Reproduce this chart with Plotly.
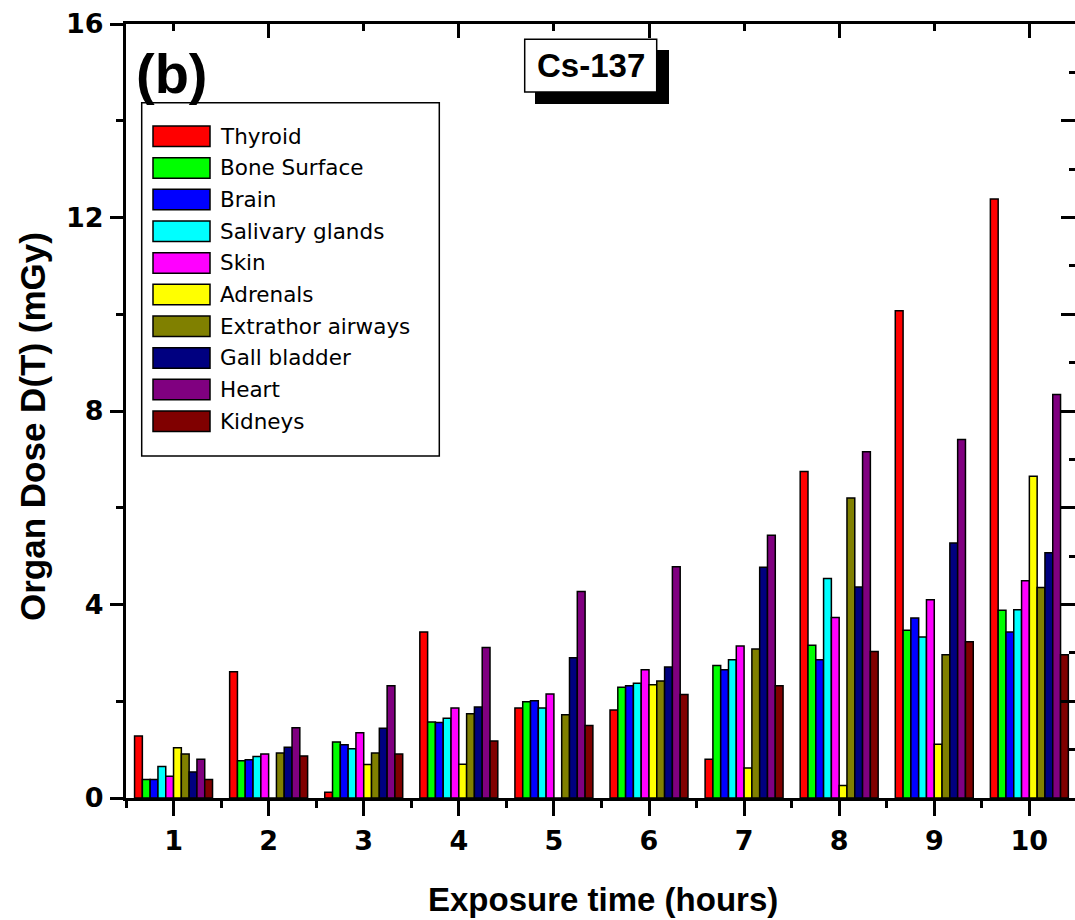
import plotly.graph_objects as go

# ---------------- data ----------------
hours = [1, 2, 3, 4, 5, 6, 7, 8, 9, 10]
organs = ["Thyroid", "Bone Surface", "Brain", "Salivary glands", "Skin",
          "Adrenals", "Extrathor airways", "Gall bladder", "Heart", "Kidneys"]
colors = ["#FF0000", "#00FF00", "#0000FF", "#00FFFF", "#FF00FF",
          "#FFFF00", "#808000", "#000080", "#800080", "#800000"]

thyroid   = [1.28, 2.61, 0.12, 3.43, 1.86, 1.82, 0.80, 6.75, 10.07, 12.38]
bone      = [0.38, 0.77, 1.16, 1.57, 1.99, 2.29, 2.74, 3.16, 3.47, 3.88]
brain     = [0.38, 0.79, 1.10, 1.56, 2.01, 2.32, 2.65, 2.86, 3.72, 3.43]
salivary  = [0.65, 0.86, 1.02, 1.65, 1.86, 2.37, 2.86, 4.54, 3.33, 3.89]
skin      = [0.45, 0.91, 1.35, 1.86, 2.15, 2.65, 3.14, 3.73, 4.10, 4.49]
adrenals  = [1.04, 0.00, 0.69, 0.70, 0.00, 2.34, 0.62, 0.26, 1.11, 6.65]
extrathor = [0.91, 0.93, 0.93, 1.74, 1.72, 2.42, 3.08, 6.20, 2.96, 4.35]
gall      = [0.54, 1.05, 1.44, 1.88, 2.90, 2.71, 4.77, 4.36, 5.27, 5.07]
heart     = [0.80, 1.45, 2.32, 3.11, 4.27, 4.78, 5.43, 7.16, 7.41, 8.34]
kidneys   = [0.38, 0.87, 0.91, 1.18, 1.50, 2.14, 2.32, 3.03, 3.23, 2.96]

series = [thyroid, bone, brain, salivary, skin, adrenals, extrathor, gall, heart, kidneys]

y_ticks_major = [0, 4, 8, 12, 16]
y_ticks_minor = [2, 6, 10, 14]

# ---------------- layout geometry ----------------
W, H = 1075, 920
L, R, T, B = 126, 1075, 24, 798


def px(x):
    return (x - L) / (R - L)


def py(y):
    return (B - y) / (B - T)


fig = go.Figure()

for name, vals, col in zip(organs, series, colors):
    fig.add_trace(go.Bar(
        x=hours, y=vals, name=name,
        marker=dict(color=col, line=dict(color="black", width=1.5)),
        showlegend=False,
    ))

# dummy trace so the mirror axes exist
fig.add_trace(go.Scatter(x=[None], y=[None], xaxis="x2", yaxis="y2",
                         showlegend=False, hoverinfo="skip"))

tickfont = dict(family="DejaVu Sans", size=27, color="black", weight="bold")

fig.update_layout(
    width=W, height=H,
    margin=dict(l=L, r=W - R, t=T, b=H - B, autoexpand=False),
    paper_bgcolor="white", plot_bgcolor="white",
    barmode="group", bargap=0.18, bargroupgap=0.0,
    xaxis=dict(
        range=[0.5, 10.48], tickvals=hours, ticktext=[str(h) for h in hours],
        showline=True, linewidth=3, linecolor="black",
        ticks="outside", ticklen=15, tickwidth=3, tickcolor="black",
        minor=dict(tickvals=[h - 0.5 for h in hours], ticks="outside",
                   ticklen=7, tickwidth=3, tickcolor="black"),
        showgrid=False, zeroline=False, tickfont=tickfont,
        ticklabelstandoff=2,
    ),
    xaxis2=dict(
        overlaying="x", side="top", anchor="y",
        range=[0.5, 10.48], tickvals=[2, 4, 6, 8, 10],
        showline=True, linewidth=3, linecolor="black",
        ticks="inside", ticklen=14, tickwidth=3, tickcolor="black",
        minor=dict(tickvals=[1, 3, 5, 7, 9], ticks="inside",
                   ticklen=7, tickwidth=3, tickcolor="black"),
        showticklabels=False, showgrid=False, zeroline=False,
    ),
    yaxis=dict(
        range=[0, 16], tickvals=y_ticks_major,
        showline=True, linewidth=3, linecolor="black",
        ticks="outside", ticklen=13, tickwidth=3, tickcolor="black",
        minor=dict(tickvals=y_ticks_minor, ticks="outside",
                   ticklen=7, tickwidth=3, tickcolor="black"),
        showgrid=False, zeroline=False, tickfont=tickfont,
        ticklabelstandoff=1,
    ),
    yaxis2=dict(
        overlaying="y", side="right", anchor="x",
        range=[0, 16], tickvals=list(range(0, 17, 2)),
        showline=False,
        ticks="inside", ticklen=14, tickwidth=3, tickcolor="black",
        minor=dict(tickvals=list(range(1, 16, 2)), ticks="inside",
                   ticklen=6, tickwidth=3, tickcolor="black"),
        showticklabels=False, showgrid=False, zeroline=False,
    ),
)

shapes = []
annotations = []

# axis titles
annotations.append(dict(
    text="Exposure time (hours)", xref="paper", yref="paper",
    x=px(603), y=py(899), xanchor="center", yanchor="middle", showarrow=False,
    font=dict(family="Liberation Sans", size=33, color="black", weight="bold")))
annotations.append(dict(
    text="Organ Dose D(T) (mGy)", xref="paper", yref="paper",
    x=px(33), y=py(427), xanchor="center", yanchor="middle", showarrow=False,
    textangle=-90,
    font=dict(family="Liberation Sans", size=35, color="black", weight="bold")))

# panel label
annotations.append(dict(
    text="(b)", xref="paper", yref="paper",
    x=px(134), y=py(74), xanchor="left", yanchor="middle", showarrow=False,
    font=dict(family="Liberation Sans", size=56, color="black", weight="bold")))

# Cs-137 box with shadow
shapes.append(dict(type="rect", xref="paper", yref="paper",
                   x0=px(535), x1=px(669), y0=py(104), y1=py(50),
                   fillcolor="black", line=dict(width=0)))
shapes.append(dict(type="rect", xref="paper", yref="paper",
                   x0=px(524.7), x1=px(656.7), y0=py(92), y1=py(39.3),
                   fillcolor="white", line=dict(color="black", width=1.5)))
annotations.append(dict(
    text="Cs-137", xref="paper", yref="paper",
    x=px(590.7), y=py(66), xanchor="center", yanchor="middle", showarrow=False,
    font=dict(family="Liberation Sans", size=33, color="black", weight="bold")))

# legend box
shapes.append(dict(type="rect", xref="paper", yref="paper",
                   x0=px(141.7), x1=px(439.3), y0=py(456), y1=py(102.7),
                   fillcolor="white", line=dict(color="black", width=1.5)))
row_h = 31.67
for i, (name, col) in enumerate(zip(organs, colors)):
    y0 = 126 + i * row_h
    y1 = y0 + 20.5
    shapes.append(dict(type="rect", xref="paper", yref="paper",
                       x0=px(153), x1=px(210), y0=py(y1), y1=py(y0),
                       fillcolor=col, line=dict(color="black", width=1.5)))
    annotations.append(dict(
        text=name, xref="paper", yref="paper",
        x=px(218), y=py((y0 + y1) / 2), xanchor="left", yanchor="middle",
        showarrow=False,
        font=dict(family="DejaVu Sans", size=21.5, color="black")))

fig.update_layout(shapes=shapes, annotations=annotations)

fig.write_html("out.html")
